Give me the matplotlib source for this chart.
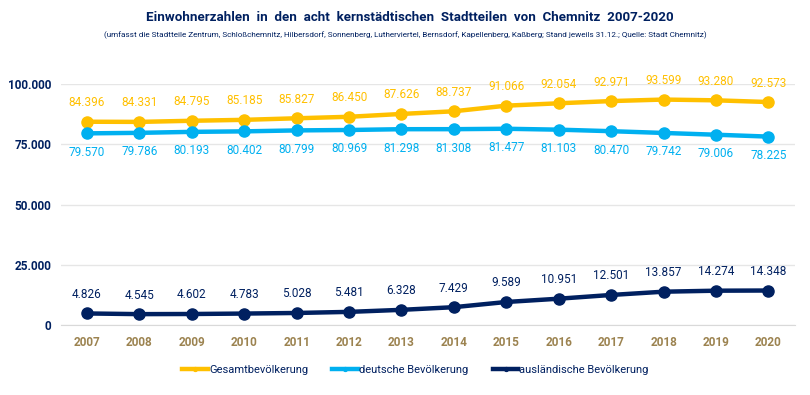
import matplotlib
matplotlib.use("Agg")
import matplotlib.pyplot as plt

years = ["2007", "2008", "2009", "2010", "2011", "2012", "2013", "2014", "2015", "2016", "2017", "2018", "2019", "2020"]
gesamt = [84396, 84331, 84795, 85185, 85827, 86450, 87626, 88737, 91066, 92054, 92971, 93599, 93280, 92573]
deutsche = [79570, 79786, 80193, 80402, 80799, 80969, 81298, 81308, 81477, 81103, 80470, 79742, 79006, 78225]
auslaend = [4826, 4545, 4602, 4783, 5028, 5481, 6328, 7429, 9589, 10951, 12501, 13857, 14274, 14348]
yticks = [0, 25000, 50000, 75000, 100000]

plt.rcParams["font.family"] = ["Roboto", "DejaVu Sans"]

GOLD = "#FFC000"
BLUE = "#00B0F0"
NAVY = "#002060"
XCOL = "#9C8350"

def fmt(v):
    return f"{v:,}".replace(",", ".")

fig = plt.figure(figsize=(8.1, 3.95), dpi=100)
ax = fig.add_axes([0.075, 0.177, 0.906, 0.610])
x = list(range(len(years)))

ax.plot(x, gesamt, color=GOLD, lw=3.2, marker="o", ms=8, label="Gesamtbevölkerung", zorder=3)
ax.plot(x, deutsche, color=BLUE, lw=3.2, marker="o", ms=8, label="deutsche Bevölkerung", zorder=3)
ax.plot(x, auslaend, color=NAVY, lw=3.2, marker="o", ms=8, label="ausländische Bevölkerung", zorder=3)

fs = 8.5
for i in x:
    ax.annotate(fmt(gesamt[i]), (i, gesamt[i]), xytext=(0, 9), textcoords="offset points",
                ha="center", va="bottom", color=GOLD, fontsize=fs)
    ax.annotate(fmt(deutsche[i]), (i, deutsche[i]), xytext=(0, -9), textcoords="offset points",
                ha="center", va="top", color=BLUE, fontsize=fs)
    ax.annotate(fmt(auslaend[i]), (i, auslaend[i]), xytext=(0, 9), textcoords="offset points",
                ha="center", va="bottom", color=NAVY, fontsize=fs)

ax.set_xlim(-0.5, len(years) - 0.5)
ax.set_ylim(0, 100000)
ax.set_yticks(yticks)
ax.set_yticklabels([fmt(v) for v in yticks], color=NAVY, fontsize=8.5, fontweight="bold")
ax.set_xticks(x)
ax.set_xticklabels(years, color=XCOL, fontsize=8.5, fontweight="bold")
ax.tick_params(axis="x", length=0, pad=8)
ax.tick_params(axis="y", length=0, pad=7)
ax.grid(axis="y", color="#E6E6E6", lw=1)
ax.set_axisbelow(True)
for s in ["top", "right", "left"]:
    ax.spines[s].set_visible(False)
ax.spines["bottom"].set_color("#D9D9D9")

fig.text(0.506, 0.955, "Einwohnerzahlen  in  den  acht  kernstädtischen  Stadtteilen  von  Chemnitz  2007-2020",
         ha="center", va="center", color=NAVY, fontsize=9.6, fontweight="bold")
fig.text(0.5, 0.912, "(umfasst die Stadtteile Zentrum, Schloßchemnitz, Hilbersdorf, Sonnenberg, Lutherviertel, Bernsdorf, Kapellenberg, Kaßberg; Stand jeweils 31.12.; Quelle: Stadt Chemnitz)",
         ha="center", va="center", color=NAVY, fontsize=5.9)

leg = fig.legend(loc="center", bbox_to_anchor=(0.513, 0.063), ncol=3, frameon=False,
                 fontsize=8, markerscale=0.35, handlelength=2.3, handletextpad=0.1, columnspacing=2.2)
for t in leg.get_texts():
    t.set_color(NAVY)

fig.savefig("out.png", dpi=100)
